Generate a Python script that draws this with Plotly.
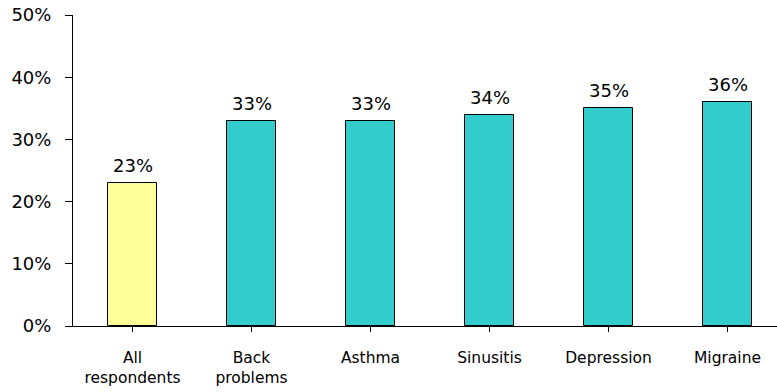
import plotly.graph_objects as go

categories = ["All<br>respondents", "Back<br>problems", "Asthma", "Sinusitis", "Depression", "Migraine"]
values = [23, 33, 33, 34, 35, 36]
colors = ["#FFFF99", "#33CCCC", "#33CCCC", "#33CCCC", "#33CCCC", "#33CCCC"]
y_ticks = [0, 10, 20, 30, 40, 50]
y_tick_labels = [f"{v}%" for v in y_ticks]

font_family = "Verdana, DejaVu Sans, sans-serif"
x_pos = list(range(len(categories)))

fig = go.Figure(
    go.Bar(
        x=x_pos,
        y=values,
        width=0.41,
        marker=dict(color=colors, line=dict(color="#000000", width=1)),
        cliponaxis=False,
    )
)

# value labels floating above each bar
for xv, v in zip(x_pos, values):
    fig.add_annotation(
        x=xv, y=v, text=f"{v}%",
        showarrow=False, xanchor="center", yanchor="bottom", yshift=5,
        font=dict(family=font_family, size=18, color="#000000"),
    )

fig.update_layout(
    width=777,
    height=392,
    margin=dict(l=73, r=0, t=15, b=66),
    plot_bgcolor="white",
    paper_bgcolor="white",
    showlegend=False,
    bargap=0,
)

fig.update_xaxes(
    tickmode="array",
    tickvals=x_pos,
    ticktext=categories,
    range=[-0.5, 5.416],
    showline=True,
    linecolor="#000000",
    linewidth=1,
    ticks="outside",
    tickson="boundaries",
    ticklen=5,
    tickcolor="#000000",
    showgrid=False,
    tickfont=dict(family=font_family, size=15.5, color="#000000"),
    tickangle=0,
    ticklabelstandoff=12,
)

fig.update_yaxes(
    range=[0, 50],
    tickmode="array",
    tickvals=y_ticks,
    ticktext=y_tick_labels,
    showline=True,
    linecolor="#000000",
    linewidth=1,
    ticks="outside",
    ticklen=7,
    tickcolor="#000000",
    showgrid=False,
    zeroline=False,
    tickfont=dict(family=font_family, size=18, color="#000000"),
    ticklabelstandoff=10,
)

fig.write_html("out.html")
